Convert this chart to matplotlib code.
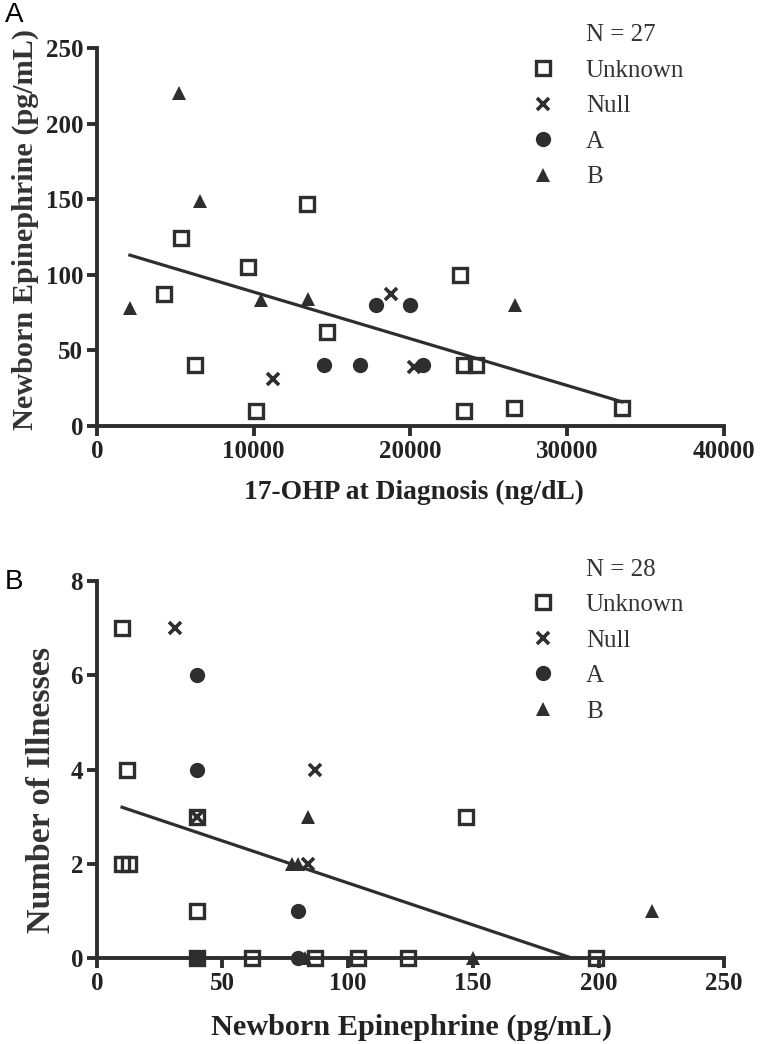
import numpy as np
import matplotlib
matplotlib.use("Agg")
import matplotlib.pyplot as plt
from matplotlib.lines import Line2D

# ---- panel A: 17-OHP at diagnosis vs newborn epinephrine ----
a_unknown_x = [5360, 4270, 6280, 9660, 10150, 13370, 14700, 23130, 23440, 24150, 23440, 26600, 33500]
a_unknown_y = [124, 87, 40, 105, 10, 147, 62, 100, 40, 40, 10, 12, 12]
a_null_x = [11240, 18730, 20200]
a_null_y = [31, 87, 39]
a_A_x = [14500, 16800, 17800, 19970, 20800]
a_A_y = [40, 40, 80, 80, 40]
a_B_x = [2100, 5260, 6560, 10460, 13470, 26700]
a_B_y = [78, 220, 149, 83, 84, 80]

# ---- panel B: newborn epinephrine vs number of illnesses ----
b_unknown_x = [10, 12, 10, 12.6, 40, 40, 40, 62, 87, 104, 124, 147, 199]
b_unknown_y = [7, 4, 2, 2, 3, 1, 0, 0, 0, 0, 0, 3, 0]
b_null_x = [31, 87, 40, 84]
b_null_y = [7, 4, 3, 2]
b_A_x = [40, 40, 80, 80, 40]
b_A_y = [6, 4, 1, 0, 0]
b_B_x = [77.6, 80.2, 84, 83, 150, 221.5]
b_B_y = [2, 2, 3, 0, 0, 1]

groups = ["Unknown", "Null", "A", "B"]
ink = "#2e2e2e"
serif = ["Liberation Serif", "DejaVu Serif"]

marker_style = {
    "Unknown": dict(marker="s", ms=10.5, mfc="none", mec=ink, mew=2.4),
    "Null": dict(marker="x", ms=8, mec=ink, mew=2.6),
    "A": dict(marker="o", ms=11, mfc=ink, mec=ink, mew=0),
    "B": dict(marker="^", ms=10.5, mfc=ink, mec=ink, mew=0),
}


def panel(ax, data, xlim, ylim, xticks, yticks, xlabel, ylabel, n,
          xlab_size, ylab_size, xlab_pos, ylab_pos, leg_y):
    all_x, all_y = [], []
    for name, (xs, ys) in zip(groups, data):
        ax.plot(xs, ys, ls="none", clip_on=False, zorder=3, **marker_style[name])
        all_x += xs
        all_y += ys

    slope, icpt = np.polyfit(all_x, all_y, 1)
    fx = np.array([min(all_x), max(all_x)])
    ax.plot(fx, slope * fx + icpt, color=ink, lw=2.3, zorder=2)

    ax.set_xlim(*xlim)
    ax.set_ylim(*ylim)
    ax.set_xticks(xticks)
    ax.set_yticks(yticks)
    for side in ["top", "right"]:
        ax.spines[side].set_visible(False)
    for side in ["left", "bottom"]:
        ax.spines[side].set_linewidth(2.8)
        ax.spines[side].set_color(ink)
    ax.tick_params(length=7, width=2.8, color=ink, pad=3)
    for lab in ax.get_xticklabels() + ax.get_yticklabels():
        lab.set_fontfamily(serif)
        lab.set_fontweight("bold")
        lab.set_fontsize(18)
        lab.set_color("#222222")

    ax.set_xlabel(xlabel, fontfamily=serif, fontweight="bold", fontsize=xlab_size, color="#222222")
    ax.set_ylabel(ylabel, fontfamily=serif, fontweight="bold", fontsize=ylab_size, color="#333333")
    ax.xaxis.set_label_coords(*xlab_pos)
    ax.yaxis.set_label_coords(*ylab_pos)
    ax.xaxis.label.set_va("center")
    ax.yaxis.label.set_va("center")

    handles = [Line2D([], [], ls="none")]
    labels = ["N = %d" % n]
    for name in groups:
        handles.append(Line2D([], [], ls="none", **marker_style[name]))
        labels.append(name)
    ax.legend(handles, labels, loc="upper left", bbox_to_anchor=(0.672, leg_y),
              frameon=False, prop={"family": serif, "size": 18},
              labelcolor="#333333", handlelength=1.0, handletextpad=1.2,
              labelspacing=0.52, borderpad=0)


fig = plt.figure(figsize=(7.6, 10.44), dpi=100)
ax_a = fig.add_axes([0.1276, 0.592, 0.825, 0.362])
ax_b = fig.add_axes([0.1276, 0.0824, 0.825, 0.361])

panel(ax_a,
      [(a_unknown_x, a_unknown_y), (a_null_x, a_null_y), (a_A_x, a_A_y), (a_B_x, a_B_y)],
      (0, 40000), (0, 250), [0, 10000, 20000, 30000, 40000], [0, 50, 100, 150, 200, 250],
      "17-OHP at Diagnosis (ng/dL)", "Newborn Epinephrine (pg/mL)", 27,
      19.8, 21.8, (0.506, -0.177), (-0.115, 0.52), 1.097)

panel(ax_b,
      [(b_unknown_x, b_unknown_y), (b_null_x, b_null_y), (b_A_x, b_A_y), (b_B_x, b_B_y)],
      (0, 250), (0, 8), [0, 50, 100, 150, 200, 250], [0, 2, 4, 6, 8],
      "Newborn Epinephrine (pg/mL)", "Number of Illnesses", 28,
      21.8, 24.5, (0.502, -0.183), (-0.088, 0.446), 1.094)

fig.text(0.006, 0.998, "A", fontfamily="Liberation Sans", fontsize=20, va="top", ha="left")
fig.text(0.006, 0.455, "B", fontfamily="Liberation Sans", fontsize=20, va="top", ha="left")

fig.savefig("out.png", dpi=100)
